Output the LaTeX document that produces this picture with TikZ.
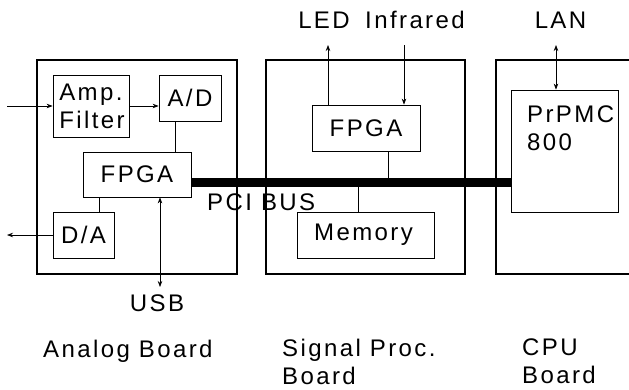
\documentclass[tikz,border=0pt]{standalone}
\usepackage{fontspec}
\setmainfont{Liberation Sans}[LetterSpace=10]
\usetikzlibrary{arrows.meta,fit}
\begin{document}
\begin{tikzpicture}[x=1pt,y=-1pt,
  font=\fontsize{24}{28}\selectfont,
  board/.style={draw, line width=2.2pt, inner sep=0pt},
  blk/.style={draw, line width=0.8pt, inner sep=0pt},
  conn/.style={line width=0.7pt},
  arr/.style={conn, -{Stealth[length=6pt,width=4.5pt]}},
  arrb/.style={conn, {Stealth[length=6pt,width=4.5pt]}-{Stealth[length=6pt,width=4.5pt]}},
  txt/.style={inner sep=0pt},
  bus/.style={line width=9pt}]
\useasboundingbox (0,0) rectangle (629,389);
\clip (0,0) rectangle (629,389);
% boards
\node[board, fit={(37,60)(237,274)}] (analog) {};
\node[board, fit={(266,60)(465,274)}] (signal) {};
\node[board, fit={(496,60)(645,274)}] (cpu) {};
% analog board blocks
\node[blk, fit={(53,75)(129,137)}] (amp) {};
\node[txt, align=left] (amptext) at ([xshift=1pt]amp.center) {Amp.\\Filter};
\node[blk, fit={(159,75)(221,121)}] (ad) {};
\node[txt] (adtext) at (ad.center) {A/D};
\node[blk, fit={(83,152)(191,197)}] (fpga) {};
\node[txt] (fpgatext) at (fpga.center) {FPGA};
\node[blk, fit={(53,212)(114,258)}] (da) {};
\node[txt] (datext) at (da.center) {D/A};
% signal board blocks
\node[blk, fit={(312,105)(420,151)}] (fpgab) {};
\node[txt] (fpgabtext) at (fpgab.center) {FPGA};
\node[blk, fit={(297,212)(434,258)}] (mem) {};
\node[txt] (memtext) at ([xshift=-2pt]mem.center) {Memory};
% cpu board
\node[blk, fit={(511,90)(618,212)}] (pr) {};
\node[txt, align=left, anchor=north west] (prtext) at (527,106) {PrPMC\\800};
% coordinates
\coordinate (in) at (7,106);
\coordinate (out) at (7,235);
\coordinate (usb) at (160,287);
\coordinate (busy) at (0,182.5);
\coordinate (top) at (0,45);
% connectors
\draw[arr] (in) -- (amp.west);
\draw[arr] (amp.east) -- (amp.east -| ad.west);
\draw[conn] ([xshift=-15pt]ad.south) -- ([xshift=-15pt]ad.south |- fpga.north);
\draw[conn] ([xshift=15.5pt]da.north) -- ([xshift=15.5pt]da.north |- fpga.south);
\draw[arr] (da.west) -- (out);
\draw[arrb] ([xshift=23pt]fpga.south) -- (usb);
\draw[bus] (fpga.east |- busy) -- (pr.west |- busy);
\draw[conn] ([xshift=22pt]fpgab.south) -- ([xshift=22pt]fpgab.south |- busy);
\draw[conn] ([xshift=-7.5pt]mem.north) -- ([xshift=-7.5pt]mem.north |- busy);
\draw[arr] ([xshift=-38pt]fpgab.north) -- ([xshift=-38pt]fpgab.north |- top);
\draw[arr] ([xshift=38pt]fpgab.north |- top) -- ([xshift=38pt]fpgab.north);
\draw[arrb] ([xshift=-8.5pt]pr.north |- top) -- ([xshift=-8.5pt]pr.north);
% labels
\node[txt, anchor=base] (usbl) at (157,311) {USB};
\node[txt, anchor=base] (led) at (324,28) {LED};
\node[txt, anchor=base] (ir) at (415,28) {Infrared};
\node[txt, anchor=base] (lan) at (560.5,28) {LAN};
\node[txt, anchor=base west] (pci) at (207,210) {PCI BUS};
\node[txt, anchor=base west] (alab) at (43,357) {Analog Board};
\node[txt, anchor=north west, align=left] (slab) at (282,339) {Signal Proc.\\Board};
\node[txt, anchor=north west, align=left] (clab) at (522,339) {CPU\\Board};
\end{tikzpicture}
\end{document}
